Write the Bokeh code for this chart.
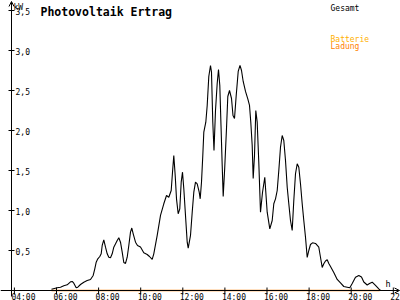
from bokeh.plotting import figure
from bokeh.models import Range1d, Arrow, OpenHead, ColumnDataSource
from bokeh.core.properties import value
from bokeh.embed import file_html
from bokeh.resources import INLINE

# ---------------- data ----------------
title_text = "Photovoltaik Ertrag"
unit_y = "kW"
unit_x = "h"
legend_gesamt = "Gesamt"
legend_batterie = "Batterie"
legend_ladung = "Ladung"

time_h = [5.762, 6.033, 6.190, 6.347, 6.508, 6.665, 6.746, 6.822, 6.936, 7.012,
          7.140, 7.297, 7.458, 7.615, 7.743, 7.819, 7.886, 7.962, 8.057, 8.123,
          8.171, 8.247, 8.328, 8.409, 8.485, 8.565, 8.646, 8.722, 8.884, 8.960,
          9.040, 9.121, 9.197, 9.278, 9.359, 9.435, 9.515, 9.577, 9.644, 9.753,
          9.848, 9.990, 10.147, 10.309, 10.418, 10.546, 10.622, 10.784, 10.941, 11.097,
          11.226, 11.335, 11.449, 11.511, 11.572, 11.639, 11.701, 11.781, 11.857, 11.924,
          11.986, 12.048, 12.128, 12.209, 12.257, 12.366, 12.447, 12.523, 12.603, 12.684,
          12.779, 12.827, 12.888, 12.950, 12.998, 13.093, 13.159, 13.235, 13.316, 13.363,
          13.425, 13.482, 13.553, 13.634, 13.696, 13.758, 13.815, 13.872, 13.919, 13.990,
          14.076, 14.138, 14.219, 14.314, 14.385, 14.456, 14.537, 14.632, 14.717, 14.789,
          14.869, 14.979, 15.088, 15.169, 15.230, 15.297, 15.344, 15.406, 15.468, 15.534,
          15.610, 15.691, 15.786, 15.895, 16.009, 16.133, 16.247, 16.323, 16.404, 16.485,
          16.561, 16.641, 16.722, 16.798, 16.879, 16.960, 17.036, 17.116, 17.197, 17.273,
          17.354, 17.435, 17.511, 17.591, 17.672, 17.748, 17.829, 17.910, 17.986, 18.066,
          18.162, 18.304, 18.461, 18.541, 18.622, 18.698, 18.779, 18.860, 18.936, 19.017,
          19.173, 19.335, 19.492, 19.648, 19.810, 19.934, 20.048, 20.204, 20.361, 20.489,
          20.599, 20.760, 20.869, 20.998, 21.154, 21.311, 21.392]

gesamt_kw = [0.016, 0.034, 0.041, 0.059, 0.071, 0.109, 0.113, 0.091, 0.034, 0.041,
             0.075, 0.104, 0.125, 0.138, 0.188, 0.271, 0.354, 0.396, 0.425, 0.459,
             0.563, 0.634, 0.541, 0.459, 0.416, 0.409, 0.459, 0.541, 0.625, 0.659,
             0.604, 0.479, 0.350, 0.338, 0.416, 0.563, 0.729, 0.781, 0.709, 0.604,
             0.563, 0.544, 0.471, 0.450, 0.425, 0.388, 0.459, 0.688, 0.938, 1.084,
             1.188, 1.166, 1.250, 1.479, 1.688, 1.438, 1.146, 0.959, 1.021, 1.354,
             1.479, 1.271, 0.938, 0.604, 0.529, 0.688, 0.979, 1.229, 1.354, 1.334,
             1.229, 1.146, 1.354, 1.688, 1.979, 2.104, 2.313, 2.675, 2.813, 2.729,
             2.104, 1.750, 2.250, 2.588, 2.763, 2.563, 2.063, 1.563, 1.175, 1.525,
             2.025, 2.425, 2.500, 2.400, 2.188, 2.150, 2.438, 2.738, 2.813, 2.750,
             2.613, 2.488, 2.396, 2.313, 2.104, 1.813, 1.400, 1.688, 2.250, 2.104,
             1.604, 0.979, 1.225, 1.416, 0.979, 0.771, 0.875, 1.084, 1.146, 1.250,
             1.500, 1.791, 1.938, 1.875, 1.625, 1.291, 1.084, 0.875, 0.750, 1.125,
             1.459, 1.584, 1.541, 1.334, 1.084, 0.875, 0.666, 0.413, 0.500, 0.575,
             0.596, 0.588, 0.541, 0.416, 0.288, 0.334, 0.369, 0.384, 0.338, 0.300,
             0.225, 0.138, 0.094, 0.050, 0.041, 0.034, 0.088, 0.166, 0.188, 0.169,
             0.106, 0.069, 0.088, 0.104, 0.063, 0.021, 0.0]

ladung_time_h = [5.762, 21.35]
ladung_kw = [0.0, 0.0]

y_ticks = [0.5, 1.0, 1.5, 2.0, 2.5, 3.0, 3.5]
y_tick_labels = ["0,5", "1,0", "1,5", "2,0", "2,5", "3,0", "3,5"]
x_ticks = [4, 6, 8, 10, 12, 14, 16, 18, 20, 22]
x_tick_labels = ["04:00", "06:00", "08:00", "10:00", "12:00", "14:00",
                 "16:00", "18:00", "20:00", "22:00"]

# ---------------- layout constants (pixel scale) ----------------
W, H = 400, 300
HPX = 1 / 21.05          # hours per pixel
VPX = 1 / 80.0           # kW per pixel
X0 = 6 - 56 * HPX        # hour value at left edge
Y0 = -10 * VPX           # kW value at bottom edge
AXIS_H = X0 + 11 * HPX   # y-axis position

MONO = value("DejaVu Sans Mono")
BATT_COLOR = "#FFB000"
LAD_COLOR = "#FF8000"

p = figure(width=W, height=H, output_backend="svg", toolbar_location=None,
           x_range=Range1d(X0, X0 + W * HPX), y_range=Range1d(Y0, Y0 + H * VPX),
           x_axis_type=None, y_axis_type=None, min_border=0,
           background_fill_color="white", border_fill_color="white")
p.outline_line_color = None
p.grid.visible = False

# y axis with arrow
p.add_layout(Arrow(end=OpenHead(size=5, line_width=1, line_color="black"),
                   x_start=AXIS_H, y_start=-6 * VPX, x_end=AXIS_H, y_end=Y0 + (H - 1) * VPX,
                   line_color="black", line_width=1))
# x axis with arrow
p.add_layout(Arrow(end=OpenHead(size=5, line_width=1, line_color="black"),
                   x_start=X0, y_start=0, x_end=X0 + (W - 1) * HPX, y_end=0,
                   line_color="black", line_width=1))

# y ticks (+ marks)
p.segment(x0=[AXIS_H - 3 * HPX] * len(y_ticks), x1=[AXIS_H + 3 * HPX] * len(y_ticks),
          y0=y_ticks, y1=y_ticks, line_color="black", line_width=1)
p.text(x=[AXIS_H + 4 * HPX] * len(y_ticks), y=[t - 1 * VPX for t in y_ticks], text=y_tick_labels,
       text_font=MONO, text_font_size="8px", text_baseline="middle",
       text_align="left", text_color="black")

# charging line (orange) on x axis
p.line(ladung_time_h, ladung_kw, line_color=LAD_COLOR, line_width=1.6)

# x ticks
p.segment(x0=x_ticks, x1=x_ticks, y0=[3 * VPX] * len(x_ticks), y1=[-4 * VPX] * len(x_ticks),
          line_color="black", line_width=1)
p.text(x=[t - 3 * HPX for t in x_ticks], y=[-2 * VPX] * len(x_ticks), text=x_tick_labels,
       text_font=MONO, text_font_size="8px", text_baseline="top",
       text_align="left", text_color="black")

# total curve
src = ColumnDataSource(dict(t=time_h, kw=gesamt_kw))
p.line("t", "kw", source=src, line_color="black", line_width=1.1)

# texts
p.text(x=[X0 + 40 * HPX], y=[279 * VPX], text=[title_text], text_font=MONO,
       text_font_size="11.5px", text_font_style="bold", text_baseline="alphabetic",
       text_color="black")
p.text(x=[X0 + 13 * HPX], y=[283.5 * VPX], text=[unit_y], text_font=MONO,
       text_font_size="8px", text_baseline="alphabetic", text_color="#000000")
p.text(x=[X0 + 385 * HPX], y=[6.5 * VPX], text=[unit_x], text_font=MONO,
       text_font_size="8.5px", text_baseline="alphabetic", text_color="#000000")
p.text(x=[X0 + 330 * HPX], y=[282.5 * VPX], text=[legend_gesamt], text_font=MONO,
       text_font_size="8px", text_baseline="alphabetic", text_color="black")
p.text(x=[X0 + 330 * HPX], y=[251.5 * VPX], text=[legend_batterie], text_font=MONO,
       text_font_size="8px", text_baseline="alphabetic", text_color=BATT_COLOR)
p.text(x=[X0 + 330 * HPX], y=[244 * VPX], text=[legend_ladung], text_font=MONO,
       text_font_size="8px", text_baseline="alphabetic", text_color=LAD_COLOR)

open("out.html", "w").write(file_html(p, INLINE))
